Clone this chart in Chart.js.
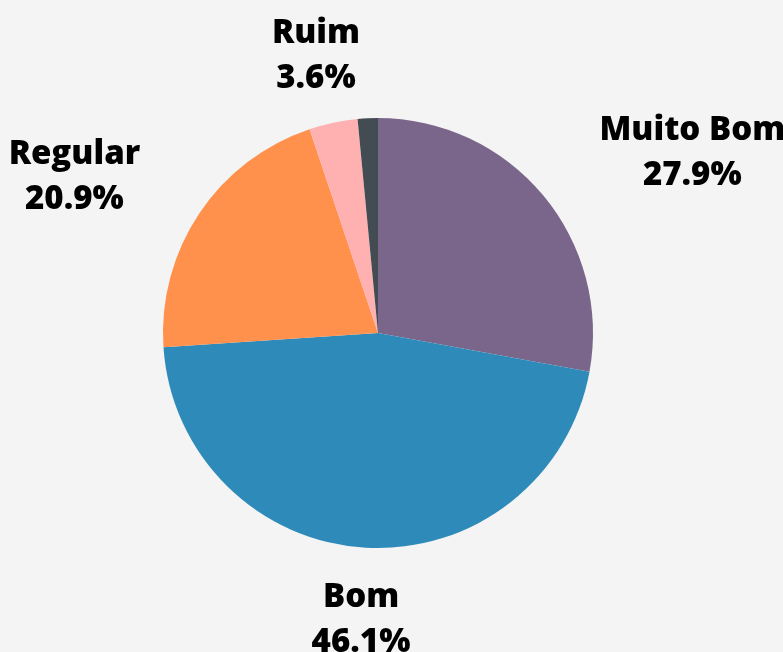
<!DOCTYPE html>
<html>
<head>
<meta charset="utf-8">
<script src="https://cdn.jsdelivr.net/npm/chart.js@4"></script>
<style>
  html, body { margin: 0; padding: 0; background: #f4f4f4; }
  #wrap { width: 783px; height: 652px; }
</style>
</head>
<body>
<div id="wrap"><canvas id="myChart"></canvas></div>
<script>
// avaliacao - pie
var labels = ['Muito Bom', 'Bom', 'Regular', 'Ruim', 'Péssimo'];
var counts = [92, 152, 69, 12, 5];
var colors = ['#7b668b', '#2e8bb9', '#ff914d', '#ffb1b1', '#434b53'];

var total = counts.reduce(function (s, v) { return s + v; }, 0);

// labels outside the slices, centered text, two lines
var outsideLabels = {
    id: 'outsideLabels',
    afterDatasetsDraw: function (chart) {
        var ctx = chart.ctx;
        var meta = chart.getDatasetMeta(0);
        var fs = 33, lh = 45;
        ctx.save();
        ctx.font = '800 ' + fs + 'px "Open Sans"';
        ctx.fillStyle = '#000';
        ctx.textAlign = 'center';
        ctx.textBaseline = 'alphabetic';
        meta.data.forEach(function (arc, i) {
            var pct = counts[i] / total * 100;
            if (pct < 2) return;
            var lines = [labels[i], pct.toFixed(1) + '%'];
            var w = Math.max(ctx.measureText(lines[0]).width, ctx.measureText(lines[1]).width);
            var capH = fs * 0.714;
            var h = lh + capH;
            var mid = (arc.startAngle + arc.endAngle) / 2;
            var dx = Math.cos(mid), dy = Math.sin(mid);
            var x = arc.x + dx * (arc.outerRadius + 30) + dx * (1 + Math.abs(dx)) * w / 2;
            var y = arc.y + dy * (arc.outerRadius + 36) + dy * h / 2;
            ctx.fillText(lines[0], x, y - lh / 2 + capH / 2);
            ctx.fillText(lines[1], x, y + lh / 2 + capH / 2);
        });
        ctx.restore();
    }
};

var ctx1 = document.getElementById('myChart').getContext('2d');
var myChart = new Chart(ctx1, {
    type: 'pie',
    data: {
        labels: labels,
        datasets: [{
            data: counts,
            backgroundColor: colors,
            borderWidth: 0
        }]
    },
    options: {
        responsive: true,
        maintainAspectRatio: false,
        animation: false,
        layout: { padding: { left: 100, right: 127, top: 118, bottom: 104 } },
        plugins: {
            legend: { display: false },
            tooltip: { enabled: false }
        }
    },
    plugins: [outsideLabels]
});
</script>
</body>
</html>
